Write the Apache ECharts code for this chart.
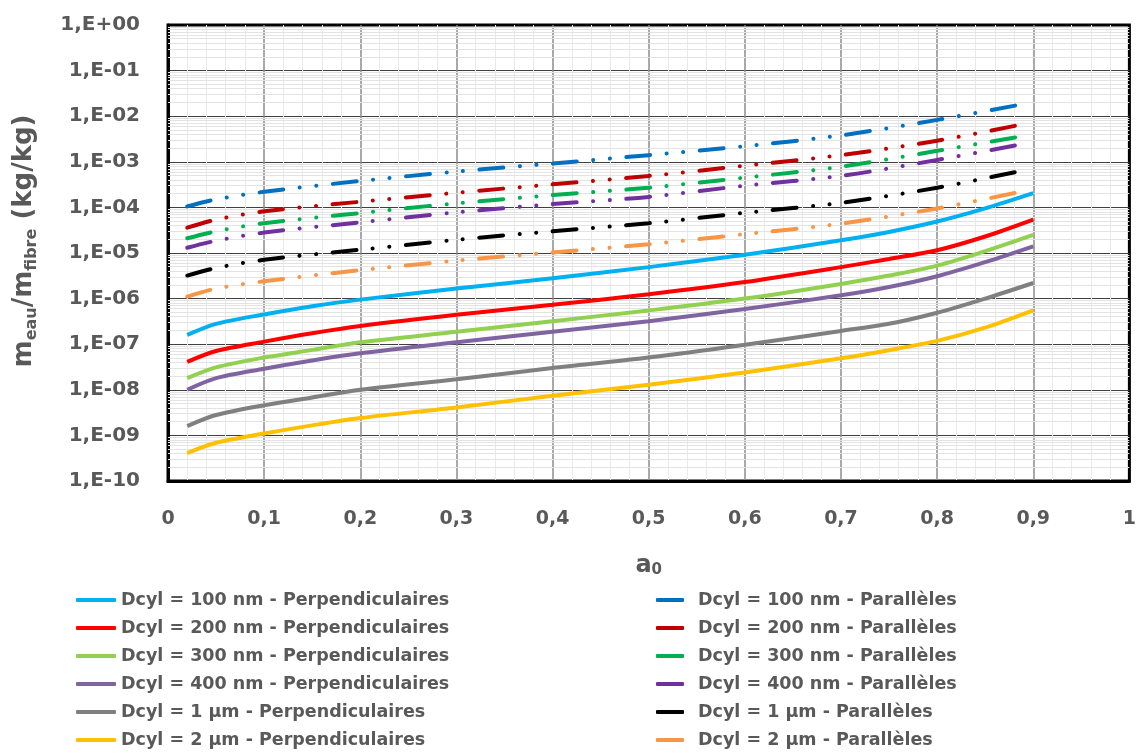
<!DOCTYPE html>
<html><head><meta charset="utf-8">
<script src="https://cdn.jsdelivr.net/npm/echarts/dist/echarts.min.js"></script>
<style>html,body{margin:0;padding:0;background:#fff}#c{width:1139px;height:753px}</style>
</head><body><div id="c"></div>
<script>
// ---- data ----
const perpA = [0.02, 0.05, 0.1, 0.15, 0.2, 0.3, 0.4, 0.5, 0.6, 0.7, 0.75, 0.8, 0.85, 0.9];
const perp100nm = [1.6e-7, 2.8e-7, 4.5e-7, 6.8e-7, 9.5e-7, 1.66e-6, 2.8e-6, 4.9e-6, 9.2e-6, 1.9e-5, 2.9e-5, 4.9e-5, 9.5e-5, 2.05e-4];
const perp200nm = [4.1e-8, 7.1e-8, 1.14e-7, 1.74e-7, 2.5e-7, 4.4e-7, 7.3e-7, 1.24e-6, 2.3e-6, 4.9e-6, 7.4e-6, 1.15e-5, 2.3e-5, 5.4e-5];
const perp300nm = [1.8e-8, 3.1e-8, 5.1e-8, 7.5e-8, 1.1e-7, 1.87e-7, 3.2e-7, 5.5e-7, 1.0e-6, 2.1e-6, 3.2e-6, 5.3e-6, 1.1e-5, 2.5e-5];
const perp400nm = [1.0e-8, 1.8e-8, 2.9e-8, 4.4e-8, 6.3e-8, 1.1e-7, 1.87e-7, 3.2e-7, 5.9e-7, 1.18e-6, 1.8e-6, 3.1e-6, 6.3e-6, 1.4e-5];
const perp1um   = [1.6e-9, 2.8e-9, 4.6e-9, 6.8e-9, 1.0e-8, 1.7e-8, 3.0e-8, 5.1e-8, 9.7e-8, 1.95e-7, 2.8e-7, 4.9e-7, 1.0e-6, 2.2e-6];
const perp2um   = [4.1e-10, 6.9e-10, 1.1e-9, 1.66e-9, 2.4e-9, 4.1e-9, 7.4e-9, 1.29e-8, 2.4e-8, 4.9e-8, 7.4e-8, 1.18e-7, 2.3e-7, 5.5e-7];

const parA = [0.02, 0.05, 0.1, 0.2, 0.3, 0.4, 0.5, 0.6, 0.7, 0.8, 0.887];
const par100nm = [1.05e-4, 1.5e-4, 2.2e-4, 3.8e-4, 6.1e-4, 9.2e-4, 1.4e-3, 2.2e-3, 3.8e-3, 8.3e-3, 1.8e-2];
const par200nm = [3.6e-5, 5.4e-5, 8.2e-5, 1.33e-4, 2.1e-4, 3.2e-4, 4.9e-4, 8.2e-4, 1.4e-3, 2.9e-3, 6.5e-3];
const par300nm = [2.1e-5, 3.0e-5, 4.5e-5, 7.5e-5, 1.23e-4, 1.86e-4, 2.7e-4, 4.5e-4, 7.8e-4, 1.74e-3, 3.6e-3];
const par400nm = [1.3e-5, 1.86e-5, 2.8e-5, 4.7e-5, 7.8e-5, 1.18e-4, 1.7e-4, 3.0e-4, 4.9e-4, 1.1e-3, 2.4e-3];
const par1um   = [3.2e-6, 4.7e-6, 7.1e-6, 1.18e-5, 1.95e-5, 3.0e-5, 4.5e-5, 7.6e-5, 1.26e-4, 2.7e-4, 6.3e-4];
const par2um   = [1.1e-6, 1.66e-6, 2.4e-6, 4.2e-6, 6.8e-6, 1.03e-5, 1.55e-5, 2.6e-5, 4.4e-5, 9.5e-5, 2.2e-4];

const perpNames = ['Dcyl = 100 nm - Perpendiculaires','Dcyl = 200 nm - Perpendiculaires','Dcyl = 300 nm - Perpendiculaires','Dcyl = 400 nm - Perpendiculaires','Dcyl = 1 µm - Perpendiculaires','Dcyl = 2 µm - Perpendiculaires'];
const parNames = ['Dcyl = 100 nm - Parallèles','Dcyl = 200 nm - Parallèles','Dcyl = 300 nm - Parallèles','Dcyl = 400 nm - Parallèles','Dcyl = 1 µm - Parallèles','Dcyl = 2 µm - Parallèles'];

const xTickLabels = ['0','0,1','0,2','0,3','0,4','0,5','0,6','0,7','0,8','0,9','1'];
const yTickLabels = ['1,E+00','1,E-01','1,E-02','1,E-03','1,E-04','1,E-05','1,E-06','1,E-07','1,E-08','1,E-09','1,E-10'];

// ---- styling ----
const perpColors = ['#00B0F0','#FF0000','#92D050','#8064A2','#808080','#FFC000'];
const parColors = ['#0070C0','#C00000','#00B050','#7030A0','#000000','#F79646'];
const FONT = 'DejaVu Sans';
const TXT = '#595959';

const perpSets = [perp100nm, perp200nm, perp300nm, perp400nm, perp1um, perp2um];
const parSets = [par100nm, par200nm, par300nm, par400nm, par1um, par2um];

// log minor grid values 2..9 x 10^d
const minorVals = [];
for (let d = -10; d < 0; d++) for (let k = 2; k <= 9; k++) minorVals.push(k * Math.pow(10, d));

const series = [];
series.push({
  name: '_minor', type: 'line', data: [], silent: true, z: 1,
  markLine: { silent: true, symbol: 'none', z: 1, animation: false, precision: 20,
    label: { show: false }, lineStyle: { color: '#E3E3E3', width: 1, type: 'solid' },
    emphasis: { disabled: true },
    data: minorVals.map(v => [{ coord: [0, v] }, { coord: [1, v] }]) }
});
perpSets.forEach((vals, i) => series.push({
  name: perpNames[i], type: 'line', z: 3, smooth: 0.3, symbol: 'none', showSymbol: false,
  data: perpA.map((a, j) => [a, vals[j]]),
  lineStyle: { color: perpColors[i], width: 4 }, itemStyle: { color: perpColors[i] },
  emphasis: { disabled: true }
}));
parSets.forEach((vals, i) => series.push({
  name: parNames[i], type: 'line', z: 3, smooth: 0.3, symbol: 'none', showSymbol: false,
  data: parA.map((a, j) => [a, vals[j]]),
  lineStyle: { color: parColors[i], width: 4, type: [24, 16.5, 0.1, 16.5, 0.1, 16.5], cap: 'round' },
  itemStyle: { color: parColors[i] },
  emphasis: { disabled: true }
}));

const legendText = { fontFamily: FONT, fontWeight: 'bold', fontSize: 17.5, color: TXT, lineHeight: 20 };

const chart = echarts.init(document.getElementById('c'), null, { renderer: 'canvas' });
chart.setOption({
  animation: false,
  backgroundColor: '#fff',
  grid: { left: 162, right: 8, top: 25, bottom: 272, show: true, borderColor: '#000', borderWidth: 3, backgroundColor: 'transparent' },
  xAxis: {
    type: 'value', min: 0, max: 1, interval: 0.1,
    axisLine: { show: true, lineStyle: { color: '#000', width: 3 } },
    axisTick: { show: false },
    axisLabel: { formatter: v => xTickLabels[Math.round(v * 10)], fontFamily: FONT, fontWeight: 'bold', fontSize: 19, color: TXT, margin: 29 },
    splitLine: { show: true, showMinLine: false, showMaxLine: false, lineStyle: { color: '#8C8C8C', width: 1.5 } },
    minorTick: { show: false, splitNumber: 5 },
    minorSplitLine: { show: true, lineStyle: { color: '#EAEAEA', width: 1 } },
    name: 'a{sub|0}', nameLocation: 'middle', nameGap: 73,
    nameTextStyle: { fontFamily: FONT, fontWeight: 'bold', fontSize: 24, color: TXT,
      rich: { sub: { fontFamily: FONT, fontWeight: 'bold', fontSize: 15, color: TXT, padding: [14, 0, 0, 0], lineHeight: 18, verticalAlign: 'bottom' } } }
  },
  yAxis: {
    type: 'log', logBase: 10, min: 1e-10, max: 1, interval: 1,
    axisLine: { show: true, lineStyle: { color: '#000', width: 3 } },
    axisTick: { show: false },
    axisLabel: { formatter: v => yTickLabels[Math.round(-Math.log10(v))], fontFamily: FONT, fontWeight: 'bold', fontSize: 20, color: TXT, margin: 28 },
    splitLine: { show: true, showMinLine: false, showMaxLine: false, lineStyle: { color: '#404040', width: 1 } },
    name: 'm{sub|eau}/m{sub|fibre} (kg/kg)', nameLocation: 'middle', nameGap: 128, nameRotate: 90,
    nameTextStyle: { fontFamily: FONT, fontWeight: 'bold', fontSize: 26, color: TXT, lineHeight: 32, padding: [0, 0, 0, 24],
      rich: { sub: { fontFamily: FONT, fontWeight: 'bold', fontSize: 16, color: TXT, padding: [14, 0, 0, 0], lineHeight: 18, verticalAlign: 'bottom' } } }
  },
  legend: [
    { data: perpNames.map(n => ({ name: n, icon: 'roundRect' })), orient: 'vertical', left: 76, top: 590, padding: 0,
      itemWidth: 40, itemHeight: 4, itemGap: 8, textStyle: legendText, selectedMode: false },
    { data: parNames.map(n => ({ name: n, icon: 'roundRect' })), orient: 'vertical', left: 656, top: 590, padding: 0,
      itemWidth: 28, itemHeight: 4, itemGap: 8,
      textStyle: Object.assign({}, legendText, { padding: [0, 0, 0, 9] }), selectedMode: false }
  ],
  series: series
});
</script>
</body></html>
